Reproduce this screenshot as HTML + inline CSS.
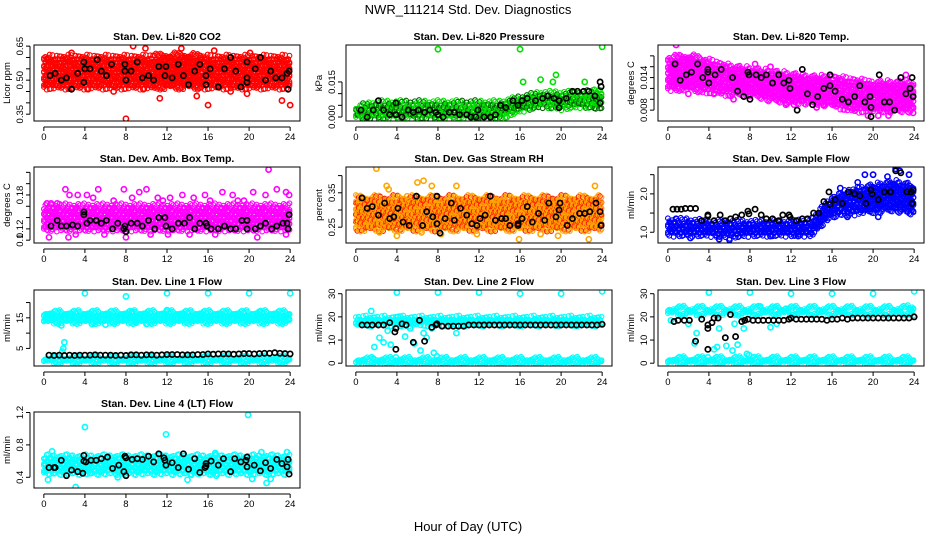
<!DOCTYPE html>
<html><head><meta charset="utf-8">
<style>
html,body{margin:0;padding:0;background:#fff;}
svg{display:block;font-family:"Liberation Sans",Arial,sans-serif;}
</style></head>
<body>
<svg id="chart" width="936" height="540" viewBox="0 0 936 540" xmlns="http://www.w3.org/2000/svg">
<text x="468" y="14" text-anchor="middle" font-size="13">NWR_111214  Std. Dev. Diagnostics</text>
<text x="468" y="531" text-anchor="middle" font-size="13">Hour of Day (UTC)</text>
</svg>
<script>
// ---------- shared data ----------
const xTicks = [0,4,8,12,16,20,24];
const bandHours = [0,2,4,6,8,10,12,14,16,18,20,22,24];

// 1 CO2
const co2YTicks = [0.35,0.40,0.45,0.50,0.55,0.60,0.65];
const co2YLabels = ["0.35","","","0.50","","","0.65"];
const co2BandLo = [0.47,0.47,0.47,0.47,0.47,0.47,0.47,0.47,0.47,0.47,0.47,0.47,0.47];
const co2BandHi = [0.60,0.60,0.60,0.60,0.60,0.60,0.61,0.61,0.60,0.60,0.60,0.60,0.60];
const co2Extra = [[0.3,0.59],[8,0.33],[8.7,0.65],[9.9,0.64],[16,0.39],[24,0.39],[23.2,0.41],[4.3,0.46],[6.8,0.45],[11.3,0.42],[14.9,0.43],[18.2,0.45],[19.8,0.44],[13.4,0.64],[16.6,0.63],[0.3,0.48],[9.7,0.46],[2.7,0.62],[20.1,0.62]];
const co2Black = [[0.6,0.52],[1.1,0.53],[1.7,0.50],[2.2,0.51],[2.7,0.46],[3.3,0.53],[3.9,0.58],[3.9,0.49],[4,0.55],[4.5,0.55],[5.2,0.59],[5.6,0.54],[6.1,0.52],[6.6,0.57],[7.9,0.57],[7.9,0.54],[8,0.50],[8.5,0.54],[9.1,0.58],[9.6,0.51],[10.2,0.52],[10.7,0.50],[11.2,0.56],[11.8,0.52],[11.9,0.56],[12.5,0.51],[13.1,0.57],[13.6,0.52],[14.1,0.48],[14.7,0.54],[15.2,0.57],[15.8,0.52],[15.8,0.48],[16.2,0.55],[17,0.47],[17.6,0.55],[18.2,0.60],[18.7,0.54],[19.2,0.47],[19.8,0.51],[19.8,0.49],[19.8,0.58],[20.6,0.55],[21.1,0.60],[21.6,0.50],[22.1,0.54],[22.6,0.51],[23.2,0.51],[23.7,0.53],[23.8,0.46],[23.9,0.54]];

// 2 Pressure
const presYTicks = [0.000,0.005,0.010,0.015];
const presYLabels = ["0.000","","","0.015"];
const presBandLo = [0.0,0.0,0.0,0.0,0.0,0.0,0.0,0.0,0.003,0.005,0.004,0.005,0.004];
const presBandHi = [0.004,0.006,0.006,0.006,0.006,0.006,0.006,0.006,0.008,0.010,0.010,0.010,0.011];
const presExtra = [[8,0.029],[16,0.029],[24,0.030],[19.5,0.018],[18,0.016],[16.3,0.015],[22.3,0.015],[19.2,0.015],[14.7,0.0],[1,0.0]];
const presBlack = [[0.5,0.003],[1.1,0.0],[1.7,0.003],[2.2,0.007],[2.7,0.003],[3.3,0.001],[3.9,0.001],[3.9,0.006],[4.5,0.0],[5.1,0.003],[5.6,0.002],[6.1,0.003],[6.7,0.002],[7.2,0.003],[7.8,0.002],[8,0.001],[8.5,0.0],[9.1,0.002],[9.6,0.002],[10.1,0.001],[10.8,0.001],[11.2,0.0],[11.7,0.0],[11.9,0.003],[12.5,0.0],[13.1,0.0],[13.6,0.001],[14.1,0.005],[14.6,0.004],[15.3,0.007],[15.8,0.005],[16.2,0.007],[16.7,0.008],[17.5,0.007],[18.2,0.008],[18.7,0.009],[19.3,0.008],[19.8,0.007],[19.8,0.004],[20.5,0.008],[21.1,0.011],[21.6,0.011],[22.2,0.011],[22.7,0.011],[23.3,0.009],[23.8,0.015],[23.9,0.013],[23.8,0.006]];

// 3 Temp
const tempYTicks = [0.008,0.010,0.012,0.014,0.016,0.018];
const tempYLabels = ["0.008","","","0.014","",""];
const tempBandLo = [0.012,0.012,0.0115,0.011,0.011,0.010,0.0095,0.0095,0.009,0.008,0.008,0.008,0.008];
const tempBandHi = [0.0175,0.018,0.017,0.016,0.0155,0.015,0.0145,0.014,0.014,0.0135,0.013,0.013,0.013];
const tempExtra = [[0.8,0.020],[8.5,0.0165],[10,0.016],[4.5,0.011],[2,0.011],[11.5,0.009],[12.3,0.009],[15.2,0.009],[19.5,0.007],[21.5,0.007],[23.9,0.0075],[23.2,0.0145],[20.5,0.007],[6.4,0.010],[14.5,0.0085]];
const tempBlack = [[0.7,0.0165],[1.2,0.0135],[1.8,0.0145],[2.3,0.015],[2.9,0.0165],[3.4,0.014],[3.9,0.0155],[3.9,0.015],[4,0.013],[4.6,0.0145],[5.2,0.0155],[6.3,0.014],[6.8,0.0115],[7.4,0.0105],[7.8,0.015],[7.9,0.0145],[8,0.010],[8.6,0.0145],[9.1,0.014],[9.6,0.0145],[10.2,0.013],[10.8,0.0145],[11.3,0.013],[11.8,0.0135],[11.9,0.012],[12.6,0.008],[13.1,0.0155],[13.6,0.011],[14.1,0.009],[14.6,0.0105],[15.2,0.012],[15.8,0.0145],[15.8,0.0125],[16.3,0.0115],[17,0.010],[17.6,0.0095],[18.2,0.0105],[18.7,0.0125],[19.2,0.0095],[19.7,0.0105],[19.8,0.0085],[19.8,0.0068],[20.6,0.0145],[21.1,0.0095],[21.6,0.0095],[22.1,0.008],[22.7,0.014],[23.2,0.011],[23.6,0.012],[23.8,0.014],[23.9,0.0105]];

// 4 Amb box temp
const ambYTicks = [0.10,0.12,0.14,0.16,0.18,0.20,0.22];
const ambYLabels = ["0.1","0.12","","","0.18","",""];
const ambBandLo = [0.12,0.12,0.12,0.12,0.12,0.12,0.12,0.12,0.12,0.12,0.12,0.12,0.12];
const ambBandHi = [0.16,0.16,0.16,0.16,0.16,0.16,0.16,0.16,0.16,0.16,0.16,0.16,0.16];
const ambExtra = [[0.3,0.165],[0.7,0.165],[1.3,0.165],[2.1,0.19],[2.5,0.18],[3.3,0.18],[4.2,0.18],[4.8,0.175],[5.3,0.19],[7.8,0.19],[8.6,0.175],[9.3,0.185],[10,0.19],[11.1,0.175],[12.3,0.175],[13.5,0.18],[14.6,0.175],[15.7,0.18],[17.4,0.185],[18.4,0.18],[19.5,0.17],[20.4,0.185],[21.6,0.18],[21.9,0.225],[22.7,0.19],[23.6,0.185],[23.9,0.18],[0.5,0.105],[2.4,0.105],[3.1,0.11],[5.9,0.11],[8.0,0.105],[10.4,0.11],[12.1,0.11],[14.2,0.11],[16.7,0.11],[20.8,0.105],[23.6,0.11],[6.8,0.17],[11.6,0.17],[16.2,0.17],[18.9,0.17]];
const ambBlack = [[0.7,0.125],[1.3,0.135],[1.7,0.125],[2.2,0.125],[2.8,0.127],[3.3,0.125],[3.9,0.15],[3.9,0.145],[4.2,0.13],[4.5,0.135],[5.1,0.135],[5.6,0.13],[6.1,0.135],[6.7,0.12],[7.2,0.13],[7.8,0.12],[7.9,0.125],[8,0.115],[8.5,0.13],[9.1,0.13],[9.6,0.125],[10.2,0.135],[10.8,0.12],[11.2,0.14],[11.8,0.14],[11.9,0.125],[12.5,0.12],[13.1,0.13],[13.7,0.13],[14.2,0.14],[14.7,0.12],[15.2,0.13],[15.8,0.13],[15.9,0.125],[16.3,0.12],[17,0.12],[17.6,0.125],[18.2,0.12],[18.7,0.12],[19.3,0.135],[19.8,0.135],[19.8,0.12],[20.6,0.12],[21.1,0.125],[21.6,0.13],[22.2,0.12],[22.7,0.125],[23.3,0.13],[23.7,0.13],[23.8,0.12],[23.9,0.145]];

// 5 RH
const rhYTicks = [0.25,0.30,0.35,0.40];
const rhYLabels = ["0.25","","0.35",""];
const rhBandLo = [0.245,0.245,0.245,0.245,0.245,0.245,0.245,0.245,0.245,0.245,0.245,0.245,0.245];
const rhBandHi = [0.335,0.335,0.335,0.335,0.335,0.335,0.335,0.335,0.335,0.335,0.335,0.335,0.335];
const rhExtra = [[0.4,0.33],[2,0.42],[3,0.37],[3.2,0.36],[5,0.34],[6,0.38],[6.6,0.385],[7.4,0.37],[9.8,0.37],[13.7,0.33],[23.3,0.37],[22.7,0.215],[8.3,0.23],[15.9,0.215],[19.7,0.225],[4,0.225],[2.3,0.235],[6.4,0.235],[11.8,0.23],[18,0.23]];
const rhBlack = [[0.6,0.335],[1.1,0.305],[1.6,0.31],[2.2,0.285],[2.8,0.32],[3.3,0.275],[3.7,0.28],[4.1,0.305],[4.6,0.265],[5.2,0.255],[5.9,0.34],[6.5,0.255],[6.9,0.295],[7.5,0.28],[7.9,0.34],[7.9,0.26],[8.2,0.233],[8.7,0.275],[9.3,0.32],[9.6,0.27],[10.2,0.305],[10.8,0.285],[11.3,0.26],[11.8,0.255],[12.1,0.275],[12.6,0.285],[13.1,0.34],[13.6,0.27],[14.2,0.275],[14.6,0.275],[15,0.255],[15.8,0.255],[15.8,0.26],[16.2,0.275],[16.7,0.31],[17.2,0.265],[17.8,0.29],[18.4,0.27],[18.8,0.32],[19.5,0.28],[19.8,0.30],[19.9,0.32],[20.6,0.255],[21.1,0.275],[21.8,0.29],[22.3,0.29],[22.8,0.295],[23.4,0.32],[23.8,0.295],[23.9,0.255]];

// 6 Sample flow
const sfYTicks = [1.0,1.5,2.0,2.5];
const sfYLabels = ["1.0","","2.0",""];
const sfBandLo = [0.95,0.95,0.95,0.90,0.95,0.95,0.95,0.95,1.45,1.5,1.55,1.6,1.5];
const sfBandHi = [1.3,1.3,1.25,1.25,1.25,1.25,1.25,1.3,1.9,2.1,2.2,2.3,2.2];
const sfExtra = [[0.8,1.35],[5,0.82],[6,0.8],[12.7,0.9],[16.8,2.15],[18.5,2.3],[19.2,2.5],[20,2.5],[22.2,2.65],[22.6,2.6],[21.4,2.45],[13.5,1.0],[10,0.9],[2.2,0.85],[17.5,1.4],[20.5,1.4],[23.5,2.5]];
const sfBlack = [[0.5,1.6],[0.9,1.6],[1.3,1.6],[1.7,1.62],[2.2,1.62],[2.7,1.62],[3.3,1.3],[3.9,1.45],[3.9,1.42],[4.5,1.3],[5.1,1.45],[5.6,1.3],[6.1,1.35],[6.6,1.4],[7.2,1.45],[7.8,1.55],[7.9,1.48],[8.5,1.6],[9.1,1.45],[9.6,1.35],[10.2,1.35],[10.8,1.3],[11.2,1.45],[11.8,1.45],[11.9,1.4],[12.5,1.3],[13.1,1.35],[13.6,1.35],[14.2,1.5],[14.7,1.5],[15.2,1.8],[15.7,2.05],[15.8,1.72],[16.3,1.85],[17,1.75],[17.6,2.05],[18.2,2.0],[18.7,1.95],[19.3,1.75],[19.8,2.1],[19.9,2.0],[20.5,1.85],[21.1,2.05],[21.7,2.05],[22.2,2.6],[22.7,2.55],[23.3,2.05],[23.7,2.05],[23.8,1.75],[23.9,2.1]];

// 7 Line 1
const l1YTicks = [5,10,15,20];
const l1YLabels = ["5","","15",""];
const l1BandALo = [15.5,15.5,15.5,15.5,15.5,15.5,15.5,15.5,15.5,15.5,15.5,15.5,15.5];
const l1BandAHi = [16.6,16.6,16.6,16.6,16.6,16.6,16.6,16.6,16.6,16.6,16.6,16.6,16.6];
const l1BandBLo = [13.8,13.8,13.8,13.8,13.8,13.8,13.8,13.8,13.8,13.8,13.8,13.8,13.8];
const l1BandBHi = [14.8,14.8,14.8,14.8,14.8,14.8,14.8,14.8,14.8,14.8,14.8,14.8,14.8];
const l1BandCLo = [0.8,0.8,0.8,0.8,0.8,0.8,0.8,0.8,0.8,0.8,0.8,0.8,0.8];
const l1BandCHi = [1.8,1.8,1.8,1.8,1.8,1.8,1.8,1.8,1.8,1.8,1.8,1.8,1.8];
const l1Extra = [[4,23],[8,22],[12,23],[16,23],[20,23],[24,23],[1.7,12.5],[2.0,7],[1.9,5],[1.8,4],[8.6,17],[12,17.5],[21,17],[4.7,13],[6,12.8],[10,13],[9,13.5]];
const l1Black = [[0.5,2.8],[1,2.7],[1.5,2.8],[2,2.7],[2.5,2.8],[3,2.7],[3.5,2.8],[4,2.8],[4.5,2.8],[5,2.9],[5.5,2.8],[6,2.8],[6.5,2.8],[7,2.7],[7.5,2.8],[8,2.7],[8.5,2.9],[9,2.9],[9.5,2.8],[10,2.9],[10.5,2.9],[11,2.8],[11.5,2.9],[12,3.0],[12.5,3.0],[13,3.0],[13.5,2.9],[14,2.9],[14.5,2.9],[15,3.0],[15.5,3.0],[16,3.2],[16.5,3.1],[17,3.2],[17.5,3.2],[18,3.2],[18.5,3.1],[19,3.2],[19.5,3.3],[20,3.3],[20.5,3.2],[21,3.3],[21.5,3.4],[22,3.4],[22.5,3.6],[23,3.4],[23.5,3.3],[24,3.2]];

// 8 Line 2
const l2YTicks = [0,10,20,30];
const l2YLabels = ["0","10","20","30"];
const l2BandALo = [17,17,17,17,17,17,17,17,17,17,17,17,17];
const l2BandAHi = [19.3,19.3,19.3,19.3,19.3,19.3,19.3,19.3,19.3,19.3,19.3,19.3,19.3];
const l2BandBLo = [0.3,0.3,0.3,0.3,0.3,0.3,0.3,0.3,0.3,0.3,0.3,0.3,0.3];
const l2BandBHi = [1.5,1.5,1.5,1.5,1.5,1.5,1.5,1.5,1.5,1.5,1.5,1.5,1.5];
const l2Extra = [[4,30.5],[8,30.5],[12,30.5],[16,30],[20,30],[24,31],[1.5,22.5],[1.8,7],[2.3,11],[2.7,9],[3.4,8],[3.9,2.5],[4.4,16],[4.8,11.5],[5.3,15],[5.7,8.5],[6.3,5.5],[6.6,13],[6.9,11],[7.4,15],[7.6,4.5],[7.9,3],[9.8,13],[1.7,2],[3.1,14],[4.1,20]];
const l2Black = [[0.6,16.5],[1.1,16.5],[1.6,16.5],[2.2,16.5],[2.7,16.5],[3.3,17.5],[3.8,13.5],[3.9,15],[3.9,6],[4.5,17],[4.9,16.5],[5.6,9],[6.2,18.5],[6.7,9.5],[7.4,15.5],[7.8,16.5],[7.9,17],[8.4,16],[9,16],[9.5,16],[10,16],[10.5,16],[11,16.5],[11.5,16.5],[12,16.5],[12.5,16.5],[13,16.5],[13.5,16.5],[14,16.5],[14.5,16.5],[15,16.5],[15.5,16.5],[16,16.5],[16.5,16.5],[17,16.5],[17.5,16.5],[18,16.5],[18.5,16.5],[19,16.5],[19.5,16.5],[20,16.5],[20.5,16.5],[21,16.5],[21.5,16.5],[22,16.5],[22.5,16.5],[23,16.5],[23.5,16.5],[24,16.8]];

// 9 Line 3
const l3YTicks = [0,10,20,30];
const l3YLabels = ["0","10","20","30"];
const l3BandALo = [21.6,21.6,21.6,21.6,21.6,21.6,21.6,21.6,21.6,21.6,21.6,21.6,21.8];
const l3BandAHi = [23.6,23.6,23.6,23.6,23.6,23.6,23.6,23.6,23.6,23.6,23.6,23.6,23.9];
const l3BandBLo = [0.3,0.3,0.3,0.3,0.3,0.3,0.3,0.3,0.3,0.3,0.3,0.3,0.3];
const l3BandBHi = [1.8,1.8,1.8,1.8,1.8,1.8,1.8,1.8,1.8,1.8,1.8,1.8,1.8];
const l3Extra = [[4,30.5],[8,30.5],[12,30],[16,30],[20,30],[24,31],[2.8,13],[3.9,2.5],[4.5,6],[4.8,7],[5.7,7.5],[6.3,5.5],[6.8,8],[7.4,15],[7.7,4],[7.9,3.5],[2.6,8.5],[9,24.5],[10.5,23],[11.5,23.5],[12.5,23],[10,15.5],[10.6,17],[0.3,18.5],[2,17],[5,15],[6.5,17]];
const l3Black = [[0.6,18],[1,18.5],[1.6,18.5],[2.1,18.5],[2.7,9.5],[3.3,19],[3.9,15],[3.9,16.5],[3.9,6],[4.3,17.5],[4.5,19.5],[4.9,19.5],[5.6,11],[6.1,21],[6.6,11.5],[7.2,18],[7.5,18.5],[7.8,19],[8.3,18.5],[8.8,18.5],[9.3,18.5],[9.8,18.5],[10.3,18.5],[10.8,18.5],[11.3,18.5],[11.8,19],[12,19.5],[12.5,19],[13,19],[13.5,19],[14,19],[14.5,19],[15,19],[15.5,18.5],[16,19],[16.5,19],[17,19.5],[17.5,19],[18,19.5],[18.5,19.5],[19,19.5],[19.5,19.5],[20,19.5],[20.5,19.5],[21,19.5],[21.5,19.5],[22,19.5],[22.5,19.5],[23,19.5],[23.5,19.5],[24,20]];

// 10 Line 4
const l4YTicks = [0.4,0.8,1.2];
const l4YLabels = ["0.4","0.8","1.2"];
const l4BandLo = [0.46,0.46,0.46,0.46,0.46,0.46,0.46,0.46,0.46,0.46,0.46,0.46,0.46];
const l4BandHi = [0.65,0.65,0.65,0.65,0.65,0.65,0.65,0.65,0.65,0.65,0.65,0.65,0.65];
const l4Extra = [[0.4,0.37],[0.8,0.72],[3.1,0.28],[4,1.02],[11.9,0.93],[19.9,1.17],[20.3,0.38],[21.7,0.33],[22.1,0.38],[14,0.37],[23.7,0.71],[21.2,0.71],[16.7,0.70],[1,0.45],[4.5,0.45],[7.2,0.40],[14.3,0.44],[16.8,0.42]];
const l4Black = [[0.5,0.52],[1,0.52],[1.1,0.52],[1.7,0.61],[2.2,0.42],[2.7,0.49],[3.3,0.47],[3.8,0.45],[3.9,0.60],[3.9,0.67],[4.1,0.59],[4.6,0.61],[5.1,0.61],[5.6,0.63],[6.2,0.65],[6.7,0.51],[7.3,0.55],[7.8,0.47],[7.9,0.66],[8,0.42],[8,0.64],[8.6,0.62],[9.1,0.63],[9.6,0.62],[10.2,0.66],[10.7,0.59],[11.2,0.69],[11.7,0.64],[11.8,0.61],[11.9,0.55],[12.5,0.58],[13.1,0.52],[13.6,0.69],[14.1,0.50],[14.7,0.63],[15.2,0.46],[15.7,0.52],[15.8,0.54],[15.8,0.57],[16.3,0.60],[17,0.55],[17.5,0.63],[18.2,0.47],[18.6,0.63],[19.2,0.59],[19.7,0.61],[19.8,0.65],[19.8,0.53],[20.5,0.55],[21.1,0.48],[21.6,0.58],[22.1,0.51],[22.7,0.62],[23.2,0.57],[23.7,0.53],[23.8,0.62],[23.9,0.44]];

// ---------- layout ----------
const NS = "http://www.w3.org/2000/svg";
const svg = document.getElementById("chart");
const colLeft = [34,346,658], rowTop = [45,167,290,412], PW = 266, PH = 76;
const jitter = [0,1.7,-1.1,0.8,-1.9,1.2,-0.5,2.1,-1.4,0.4,-2.3,1.5,-0.9];

function mk(tag, attrs, parent){
  const e = document.createElementNS(NS, tag);
  for (const k in attrs) e.setAttribute(k, attrs[k]);
  (parent||svg).appendChild(e);
  return e;
}
function interp(xs, ys, x){
  if (x <= xs[0]) return ys[0];
  for (let i=1;i<xs.length;i++){ if (x <= xs[i]){ const t=(x-xs[i-1])/(xs[i]-xs[i-1]); return ys[i-1]+t*(ys[i]-ys[i-1]); } }
  return ys[ys.length-1];
}

function panel(o){
  const L = colLeft[o.col], T = rowTop[o.row];
  const g = mk("g", {});
  
  
  const xs = h => L + (h + 0.96) / 25.92 * PW;
  const ys = v => T + PH - (v - o.ymin) / (o.ymax - o.ymin) * PH;
  const clip = "clip-" + o.name;
  const cp = mk("clipPath", {id: clip}, g);
  mk("rect", {x:L, y:T, width:PW, height:PH}, cp);
  const marks = mk("g", {"clip-path": "url(#"+clip+")"}, g);
  o.bands.forEach((b, bi) => {
    const cloud = mk("g", {}, marks);
    
    
    let k = 0;
    for (let h=0; h<=24.001; h+=0.14){
      const lo = interp(bandHours,b.lo,h), hi = interp(bandHours,b.hi,h);
      const pix = Math.abs(ys(lo)-ys(hi));
      const n = Math.max(1, Math.round(pix/3.2));
      for (let j=0;j<=n;j++){
        const v = lo + (hi-lo)*j/n;
        const jj = jitter[(k++)%13];
        mk("circle", {cx: xs(h), cy: ys(v)+jj*(j==0||j==n?1.3:0.8), r: 2.3, fill:"none", stroke: (o.stroke2 && k%3==0)? o.stroke2 : o.color, "stroke-width": 1.1}, cloud);
      }
    }
  });
  o.extra.forEach(p => {
    const c = mk("circle", {cx: xs(p[0]), cy: ys(p[1]), r: 2.6, fill:"none", stroke:o.color, "stroke-width":1.6}, marks);
    
    
  });
  o.black.forEach(p => {
    const c = mk("circle", {cx: xs(p[0]), cy: ys(p[1]), r: 2.6, fill:"none", stroke:"#000", "stroke-width":1.7}, marks);
    
    
  });
  const fr = mk("rect", {x:L, y:T, width:PW, height:PH, fill:"none", stroke:"#000", "stroke-width":1}, g);
  
  
  const xa = mk("g", {}, g);
  
  
  mk("line", {x1:xs(0), x2:xs(24), y1:T+PH+6, y2:T+PH+6, stroke:"#000"}, xa);
  xTicks.forEach(t => {
    mk("line", {x1:xs(t), x2:xs(t), y1:T+PH+6, y2:T+PH+10, stroke:"#000"}, xa);
    const tx = mk("text", {x:xs(t), y:T+PH+19, "text-anchor":"middle", "font-size":9.5}, xa);
    tx.textContent = t;
  });
  const ya = mk("g", {}, g);
  
  
  const yt = o.yTicks.filter(v => v>=o.ymin && v<=o.ymax);
  mk("line", {x1:L-4, x2:L-4, y1:ys(yt[0]), y2:ys(yt[yt.length-1]), stroke:"#000"}, ya);
  o.yTicks.forEach((v,i) => {
    if (v<o.ymin || v>o.ymax) return;
    mk("line", {x1:L-4, x2:L-8, y1:ys(v), y2:ys(v), stroke:"#000"}, ya);
    if (o.yLabels[i]){
      const tx = mk("text", {x:0, y:0, "text-anchor":"middle", "font-size":9.5, transform:"translate("+(L-11)+","+ys(v)+") rotate(-90)"}, ya);
      tx.textContent = o.yLabels[i];
    }
  });
  const yl = mk("text", {x:0,y:0,"text-anchor":"middle","font-size":9.5, transform:"translate("+(L-24)+","+(T+PH/2)+") rotate(-90)"}, g);
  yl.textContent = o.ylab;
  
  
  const ti = mk("text", {x:L+PW/2, y:T-5, "text-anchor":"middle", "font-size":10.5, "font-weight":"bold"}, g);
  ti.textContent = o.title;
  
  
}

panel({name:"co2", col:0,row:0, title:"Stan. Dev. Li-820 CO2", ylab:"Licor ppm", ymin:0.32, ymax:0.655, yTicks:co2YTicks, yLabels:co2YLabels, color:"#ff0000", bands:[{lo:co2BandLo,hi:co2BandHi}], extra:co2Extra, black:co2Black});
panel({name:"pressure", col:1,row:0, title:"Stan. Dev. Li-820 Pressure", ylab:"kPa", ymin:-0.0017, ymax:0.0308, yTicks:presYTicks, yLabels:presYLabels, color:"#00e000", stroke2:"#006000", bands:[{lo:presBandLo,hi:presBandHi}], extra:presExtra, black:presBlack});
panel({name:"temp", col:2,row:0, title:"Stan. Dev. Li-820 Temp.", ylab:"degrees C", ymin:0.006, ymax:0.020, yTicks:tempYTicks, yLabels:tempYLabels, color:"#ff00ff", bands:[{lo:tempBandLo,hi:tempBandHi}], extra:tempExtra, black:tempBlack});
panel({name:"amb-box-temp", col:0,row:1, title:"Stan. Dev. Amb. Box Temp.", ylab:"degrees C", ymin:0.095, ymax:0.2295, yTicks:ambYTicks, yLabels:ambYLabels, color:"#ff00ff", bands:[{lo:ambBandLo,hi:ambBandHi}], extra:ambExtra, black:ambBlack});
panel({name:"gas-rh", col:1,row:1, title:"Stan. Dev. Gas Stream RH", ylab:"percent", ymin:0.204, ymax:0.425, yTicks:rhYTicks, yLabels:rhYLabels, color:"#ffa500", stroke2:"#ff2000", bands:[{lo:rhBandLo,hi:rhBandHi}], extra:rhExtra, black:rhBlack});
panel({name:"sample-flow", col:2,row:1, title:"Stan. Dev. Sample Flow", ylab:"ml/min", ymin:0.72, ymax:2.70, yTicks:sfYTicks, yLabels:sfYLabels, color:"#0000ff", bands:[{lo:sfBandLo,hi:sfBandHi}], extra:sfExtra, black:sfBlack});
panel({name:"line1-flow", col:0,row:2, title:"Stan. Dev. Line 1 Flow", ylab:"ml/min", ymin:-0.75, ymax:24.1, yTicks:l1YTicks, yLabels:l1YLabels, color:"#00ffff", bands:[{lo:l1BandALo,hi:l1BandAHi},{lo:l1BandBLo,hi:l1BandBHi},{lo:l1BandCLo,hi:l1BandCHi}], extra:l1Extra, black:l1Black});
panel({name:"line2-flow", col:1,row:2, title:"Stan. Dev. Line 2 Flow", ylab:"ml/min", ymin:-1.2, ymax:31.6, yTicks:l2YTicks, yLabels:l2YLabels, color:"#00ffff", bands:[{lo:l2BandALo,hi:l2BandAHi},{lo:l2BandBLo,hi:l2BandBHi}], extra:l2Extra, black:l2Black});
panel({name:"line3-flow", col:2,row:2, title:"Stan. Dev. Line 3 Flow", ylab:"ml/min", ymin:-1.2, ymax:31.6, yTicks:l3YTicks, yLabels:l3YLabels, color:"#00ffff", bands:[{lo:l3BandALo,hi:l3BandAHi},{lo:l3BandBLo,hi:l3BandBHi}], extra:l3Extra, black:l3Black});
panel({name:"line4-flow", col:0,row:3, title:"Stan. Dev. Line 4 (LT) Flow", ylab:"ml/min", ymin:0.268, ymax:1.206, yTicks:l4YTicks, yLabels:l4YLabels, color:"#00ffff", bands:[{lo:l4BandLo,hi:l4BandHi}], extra:l4Extra, black:l4Black});
</script>
</body></html>
